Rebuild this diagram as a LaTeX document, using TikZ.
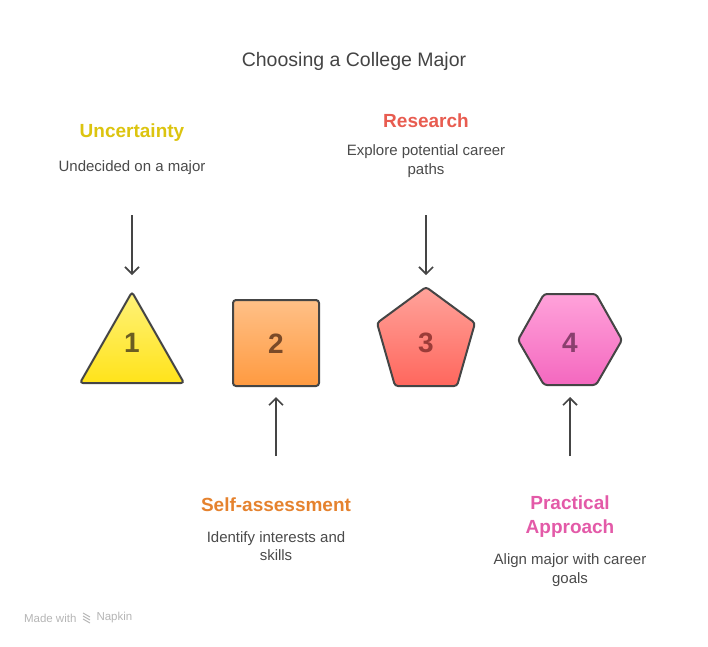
\documentclass[tikz,border=0pt]{standalone}
\usepackage{fontspec}
\setmainfont{Liberation Sans}
\usetikzlibrary{arrows.meta}

\definecolor{edgegray}{HTML}{454545}
\definecolor{bodygray}{HTML}{4A4A4A}
\definecolor{titlegray}{HTML}{444444}
\definecolor{footgray}{HTML}{B5B5B5}
\definecolor{triTop}{HTML}{FFF27A}
\definecolor{triBot}{HTML}{FFE31A}
\definecolor{sqTop}{HTML}{FFC087}
\definecolor{sqBot}{HTML}{FF9A40}
\definecolor{penTop}{HTML}{FFA39B}
\definecolor{penBot}{HTML}{FF675D}
\definecolor{hexTop}{HTML}{FFA2DA}
\definecolor{hexBot}{HTML}{F468BF}
\definecolor{triNum}{HTML}{6B5D22}
\definecolor{sqNum}{HTML}{7A4A28}
\definecolor{penNum}{HTML}{9B3C38}
\definecolor{hexNum}{HTML}{8A3F6E}
\definecolor{triHead}{HTML}{DCC40F}
\definecolor{sqHead}{HTML}{E5822E}
\definecolor{penHead}{HTML}{E85C50}
\definecolor{hexHead}{HTML}{E35AA8}

\begin{document}
\begin{tikzpicture}[x=1pt, y=-1pt,
    outline/.style={draw=edgegray, line width=2pt, rounded corners=3pt},
    num/.style={font=\fontsize{28}{28}\selectfont\bfseries},
    head/.style={font=\fontsize{19}{24}\selectfont\bfseries, align=center},
    desc/.style={font=\fontsize{15}{18.5}\selectfont, text=bodygray, align=center},
    pointer/.style={draw=edgegray, line width=1.6pt, -{Straight Barb[length=7pt,width=14pt]}}]
  \useasboundingbox (0,0) rectangle (708,646);

  \node[font=\fontsize{19.5}{22}\selectfont, text=titlegray] (title) at (354,61) {Choosing a College Major};

  % shapes
  \shade[outline, top color=triTop, bottom color=triBot] (132,292) -- (184,383) -- (80,383) -- cycle;
  \shade[outline, top color=sqTop, bottom color=sqBot] (233,300) rectangle (319,386);
  \shade[outline, top color=penTop, bottom color=penBot]
    (426,287) -- (475,323) -- (457,386) -- (395,386) -- (377,323) -- cycle;
  \shade[outline, top color=hexTop, bottom color=hexBot]
    (544,294) -- (596,294) -- (622,340) -- (596,385) -- (544,385) -- (518,340) -- cycle;

  \node[num, text=triNum] (n1) at (132,343) {1};
  \node[num, text=sqNum] (n2) at (276,344) {2};
  \node[num, text=penNum] (n3) at (426,343) {3};
  \node[num, text=hexNum] (n4) at (570,343) {4};

  % labels
  \node[head, text=triHead] (h1) at (132,133) {Uncertainty};
  \node[desc] (d1) at (132,168) {Undecided on a major};
  \node[head, text=sqHead] (h2) at (276,505) {Self-assessment};
  \node[desc] (d2) at (276,546) {Identify interests and\\skills};
  \node[head, text=penHead] (h3) at (426,121) {Research};
  \node[desc] (d3) at (426,161) {Explore potential career\\paths};
  \node[head, text=hexHead] (h4) at (570,517) {Practical\\Approach};
  \node[desc] (d4) at (570,570) {Align major with career\\goals};

  % arrows
  \coordinate (a1) at (132,215); \coordinate (b1) at (132,275);
  \coordinate (a2) at (276,456); \coordinate (b2) at (276,397);
  \coordinate (a3) at (426,215); \coordinate (b3) at (426,275);
  \coordinate (a4) at (570,456); \coordinate (b4) at (570,397);
  \foreach \i in {1,2,3,4}{
    \draw[pointer] (a\i) -- (b\i); }

  % footer
  \node[font=\fontsize{11.5}{12}\selectfont, text=footgray, anchor=west] (made) at (20.5,618) {Made with};
  \foreach \dy in {-3,0,3}{
    \draw[footgray, line width=1pt] (83,618+\dy-2) -- (90,618+\dy+2); }
  \node[font=\fontsize{11.5}{12}\selectfont, text=footgray, anchor=west] (napkin) at (93,618) {Napkin};
\end{tikzpicture}
\end{document}
